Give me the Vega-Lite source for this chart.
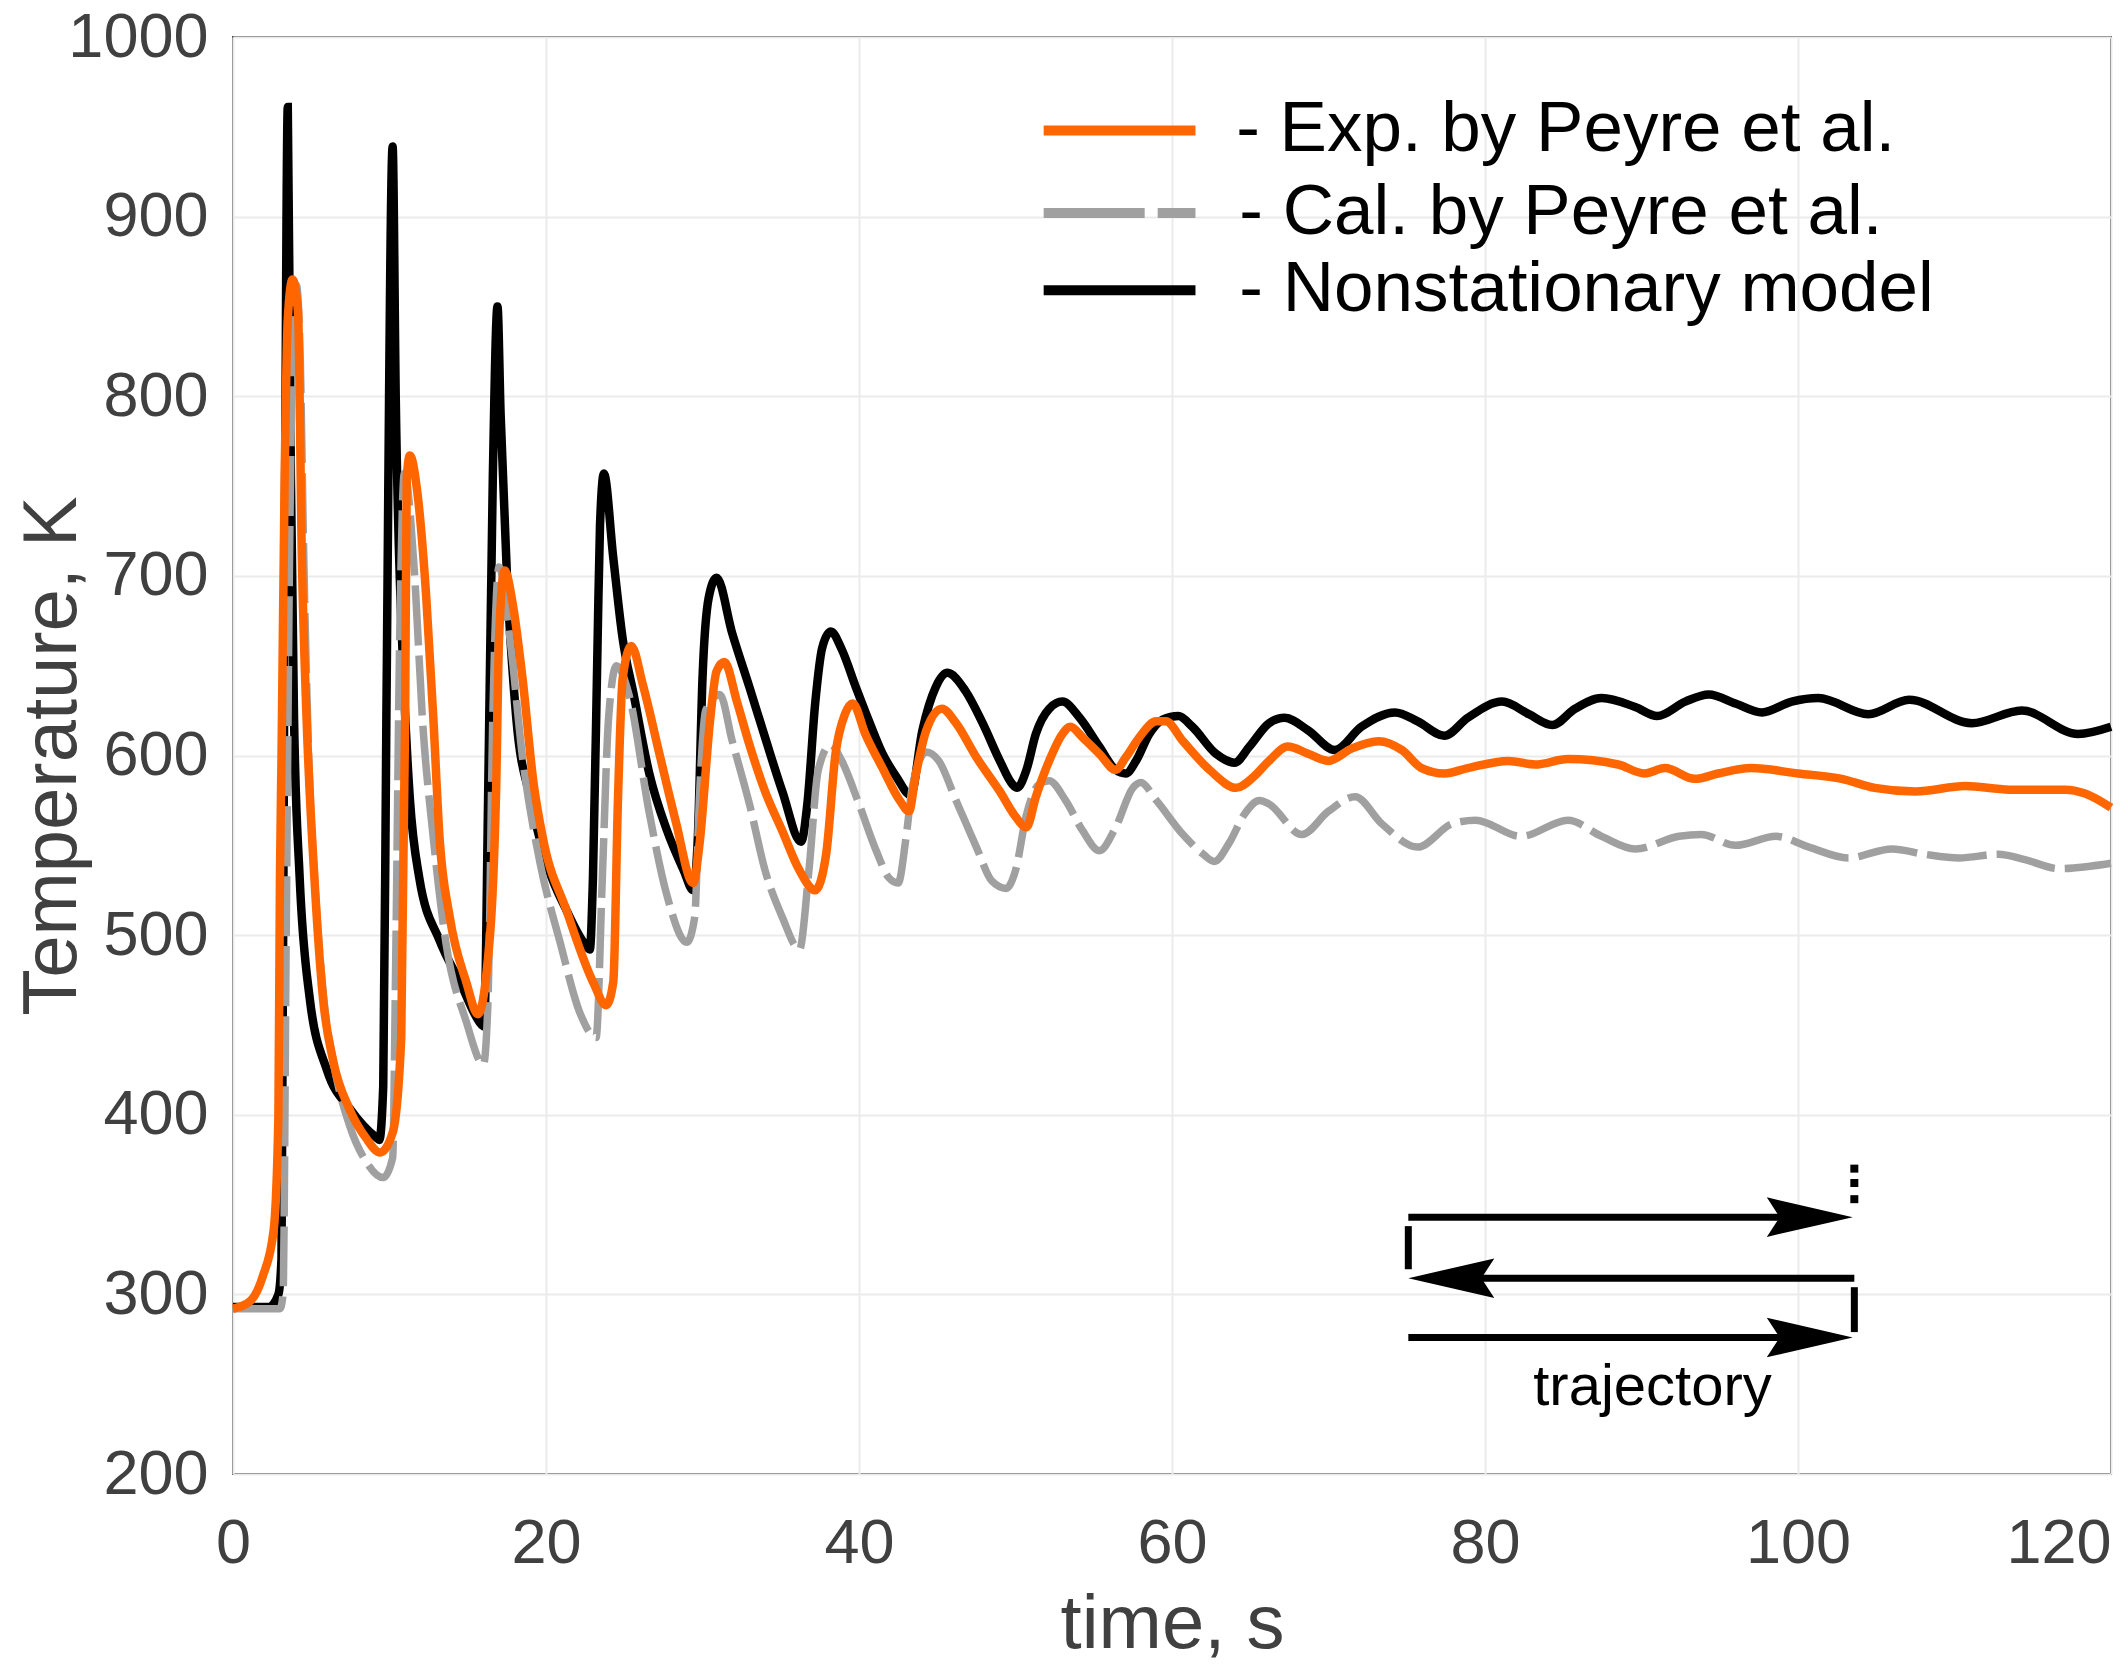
{
  "$schema": "https://vega.github.io/schema/vega-lite/v6.json",
  "width": 1878,
  "height": 1437,
  "autosize": "none",
  "padding": {"left": 233, "top": 37, "right": 13, "bottom": 196},
  "background": "#ffffff",
  "config": {
    "view": {"stroke": "#4d4d4d", "strokeWidth": 2},
    "font": "Liberation Sans",
    "axis": {
      "domain": false,
      "grid": true,
      "gridColor": "#ebebeb",
      "gridWidth": 2,
      "ticks": false,
      "labelFont": "Liberation Sans",
      "labelFontSize": 63,
      "labelColor": "#404040",
      "labelFlush": false,
      "labelOverlap": false,
      "labelBound": false,
      "format": "d",
      "titleFont": "Liberation Sans",
      "titleFontSize": 76,
      "titleFontWeight": "normal",
      "titleColor": "#404040"
    }
  },
  "datasets": {
    "curves": [
      {"s": "Nonstationary model", "t": 0, "T": 293},
      {"s": "Nonstationary model", "t": 2.3, "T": 293},
      {"s": "Nonstationary model", "t": 2.9, "T": 300},
      {"s": "Nonstationary model", "t": 3.1, "T": 320},
      {"s": "Nonstationary model", "t": 3.3, "T": 700},
      {"s": "Nonstationary model", "t": 3.5, "T": 961},
      {"s": "Nonstationary model", "t": 3.7, "T": 754},
      {"s": "Nonstationary model", "t": 3.9, "T": 621},
      {"s": "Nonstationary model", "t": 4.26, "T": 532},
      {"s": "Nonstationary model", "t": 4.9, "T": 465},
      {"s": "Nonstationary model", "t": 6.0, "T": 425},
      {"s": "Nonstationary model", "t": 7.5, "T": 403},
      {"s": "Nonstationary model", "t": 9.2, "T": 387},
      {"s": "Nonstationary model", "t": 9.35, "T": 386},
      {"s": "Nonstationary model", "t": 9.6, "T": 416},
      {"s": "Nonstationary model", "t": 9.8, "T": 621},
      {"s": "Nonstationary model", "t": 10.2, "T": 939},
      {"s": "Nonstationary model", "t": 10.4, "T": 799},
      {"s": "Nonstationary model", "t": 10.9, "T": 643},
      {"s": "Nonstationary model", "t": 11.3, "T": 576},
      {"s": "Nonstationary model", "t": 11.9, "T": 532},
      {"s": "Nonstationary model", "t": 13.2, "T": 497},
      {"s": "Nonstationary model", "t": 14.5, "T": 474},
      {"s": "Nonstationary model", "t": 15.9, "T": 450},
      {"s": "Nonstationary model", "t": 16.05, "T": 449},
      {"s": "Nonstationary model", "t": 16.3, "T": 576},
      {"s": "Nonstationary model", "t": 16.6, "T": 754},
      {"s": "Nonstationary model", "t": 16.9, "T": 850},
      {"s": "Nonstationary model", "t": 17.1, "T": 790},
      {"s": "Nonstationary model", "t": 17.5, "T": 701},
      {"s": "Nonstationary model", "t": 18.1, "T": 621},
      {"s": "Nonstationary model", "t": 19.0, "T": 576},
      {"s": "Nonstationary model", "t": 20.2, "T": 536},
      {"s": "Nonstationary model", "t": 21.3, "T": 514},
      {"s": "Nonstationary model", "t": 22.4, "T": 496},
      {"s": "Nonstationary model", "t": 22.8, "T": 492},
      {"s": "Nonstationary model", "t": 23.0, "T": 532},
      {"s": "Nonstationary model", "t": 23.3, "T": 665},
      {"s": "Nonstationary model", "t": 23.45, "T": 728},
      {"s": "Nonstationary model", "t": 23.7, "T": 757},
      {"s": "Nonstationary model", "t": 24.3, "T": 710},
      {"s": "Nonstationary model", "t": 24.9, "T": 665},
      {"s": "Nonstationary model", "t": 25.6, "T": 634},
      {"s": "Nonstationary model", "t": 26.6, "T": 590},
      {"s": "Nonstationary model", "t": 27.7, "T": 559},
      {"s": "Nonstationary model", "t": 28.8, "T": 536},
      {"s": "Nonstationary model", "t": 29.4, "T": 525},
      {"s": "Nonstationary model", "t": 29.7, "T": 554},
      {"s": "Nonstationary model", "t": 30.0, "T": 643},
      {"s": "Nonstationary model", "t": 30.4, "T": 688},
      {"s": "Nonstationary model", "t": 30.9, "T": 699},
      {"s": "Nonstationary model", "t": 31.9, "T": 668},
      {"s": "Nonstationary model", "t": 33.0, "T": 638},
      {"s": "Nonstationary model", "t": 34.0, "T": 610},
      {"s": "Nonstationary model", "t": 35.1, "T": 580},
      {"s": "Nonstationary model", "t": 36.3, "T": 552},
      {"s": "Nonstationary model", "t": 36.7, "T": 573},
      {"s": "Nonstationary model", "t": 37.2, "T": 629},
      {"s": "Nonstationary model", "t": 37.65, "T": 660},
      {"s": "Nonstationary model", "t": 38.2, "T": 669},
      {"s": "Nonstationary model", "t": 38.9, "T": 659},
      {"s": "Nonstationary model", "t": 39.8, "T": 638},
      {"s": "Nonstationary model", "t": 40.6, "T": 620},
      {"s": "Nonstationary model", "t": 41.5, "T": 601},
      {"s": "Nonstationary model", "t": 42.4, "T": 588},
      {"s": "Nonstationary model", "t": 43.3, "T": 578},
      {"s": "Nonstationary model", "t": 44.05, "T": 614},
      {"s": "Nonstationary model", "t": 44.9, "T": 638},
      {"s": "Nonstationary model", "t": 45.65, "T": 646},
      {"s": "Nonstationary model", "t": 46.8, "T": 636},
      {"s": "Nonstationary model", "t": 47.9, "T": 618},
      {"s": "Nonstationary model", "t": 49.0, "T": 597},
      {"s": "Nonstationary model", "t": 49.8, "T": 584},
      {"s": "Nonstationary model", "t": 50.1, "T": 582},
      {"s": "Nonstationary model", "t": 50.7, "T": 592},
      {"s": "Nonstationary model", "t": 51.3, "T": 612},
      {"s": "Nonstationary model", "t": 52.15, "T": 626},
      {"s": "Nonstationary model", "t": 53.0, "T": 630},
      {"s": "Nonstationary model", "t": 54.1, "T": 621},
      {"s": "Nonstationary model", "t": 55.35, "T": 605},
      {"s": "Nonstationary model", "t": 56.4, "T": 592},
      {"s": "Nonstationary model", "t": 57.05, "T": 590},
      {"s": "Nonstationary model", "t": 57.7, "T": 597},
      {"s": "Nonstationary model", "t": 58.55, "T": 612},
      {"s": "Nonstationary model", "t": 59.4, "T": 620},
      {"s": "Nonstationary model", "t": 60.4, "T": 622},
      {"s": "Nonstationary model", "t": 61.3, "T": 616},
      {"s": "Nonstationary model", "t": 62.8, "T": 601},
      {"s": "Nonstationary model", "t": 64.0, "T": 596},
      {"s": "Nonstationary model", "t": 64.95, "T": 605},
      {"s": "Nonstationary model", "t": 66.2, "T": 618},
      {"s": "Nonstationary model", "t": 67.2, "T": 621},
      {"s": "Nonstationary model", "t": 68.7, "T": 614},
      {"s": "Nonstationary model", "t": 70.4, "T": 603},
      {"s": "Nonstationary model", "t": 72.1, "T": 616},
      {"s": "Nonstationary model", "t": 74.25, "T": 624},
      {"s": "Nonstationary model", "t": 75.7, "T": 619},
      {"s": "Nonstationary model", "t": 77.4, "T": 611},
      {"s": "Nonstationary model", "t": 78.9, "T": 621},
      {"s": "Nonstationary model", "t": 81.1, "T": 630},
      {"s": "Nonstationary model", "t": 82.8, "T": 623},
      {"s": "Nonstationary model", "t": 84.3, "T": 617},
      {"s": "Nonstationary model", "t": 85.75, "T": 626},
      {"s": "Nonstationary model", "t": 87.45, "T": 632},
      {"s": "Nonstationary model", "t": 89.6, "T": 627},
      {"s": "Nonstationary model", "t": 91.0, "T": 622},
      {"s": "Nonstationary model", "t": 92.8, "T": 630},
      {"s": "Nonstationary model", "t": 94.3, "T": 634},
      {"s": "Nonstationary model", "t": 96.0, "T": 629},
      {"s": "Nonstationary model", "t": 97.7, "T": 624},
      {"s": "Nonstationary model", "t": 99.6, "T": 630},
      {"s": "Nonstationary model", "t": 101.3, "T": 632},
      {"s": "Nonstationary model", "t": 104.5, "T": 623},
      {"s": "Nonstationary model", "t": 107.1, "T": 631},
      {"s": "Nonstationary model", "t": 111.1, "T": 618},
      {"s": "Nonstationary model", "t": 114.3, "T": 625},
      {"s": "Nonstationary model", "t": 117.9, "T": 612},
      {"s": "Nonstationary model", "t": 120, "T": 616},

      {"s": "Cal. by Peyre et al.", "t": 0, "T": 292},
      {"s": "Cal. by Peyre et al.", "t": 3.0, "T": 292},
      {"s": "Cal. by Peyre et al.", "t": 3.2, "T": 300},
      {"s": "Cal. by Peyre et al.", "t": 3.4, "T": 500},
      {"s": "Cal. by Peyre et al.", "t": 3.6, "T": 700},
      {"s": "Cal. by Peyre et al.", "t": 3.8, "T": 820},
      {"s": "Cal. by Peyre et al.", "t": 4.05, "T": 862},
      {"s": "Cal. by Peyre et al.", "t": 4.3, "T": 820},
      {"s": "Cal. by Peyre et al.", "t": 4.5, "T": 720},
      {"s": "Cal. by Peyre et al.", "t": 4.8, "T": 610},
      {"s": "Cal. by Peyre et al.", "t": 5.3, "T": 520},
      {"s": "Cal. by Peyre et al.", "t": 5.8, "T": 465},
      {"s": "Cal. by Peyre et al.", "t": 6.4, "T": 430},
      {"s": "Cal. by Peyre et al.", "t": 7.45, "T": 394},
      {"s": "Cal. by Peyre et al.", "t": 8.5, "T": 374},
      {"s": "Cal. by Peyre et al.", "t": 9.6, "T": 365},
      {"s": "Cal. by Peyre et al.", "t": 10.2, "T": 376},
      {"s": "Cal. by Peyre et al.", "t": 10.4, "T": 488},
      {"s": "Cal. by Peyre et al.", "t": 10.65, "T": 665},
      {"s": "Cal. by Peyre et al.", "t": 10.95, "T": 757},
      {"s": "Cal. by Peyre et al.", "t": 11.6, "T": 701},
      {"s": "Cal. by Peyre et al.", "t": 12.1, "T": 621},
      {"s": "Cal. by Peyre et al.", "t": 12.8, "T": 554},
      {"s": "Cal. by Peyre et al.", "t": 13.6, "T": 496},
      {"s": "Cal. by Peyre et al.", "t": 14.9, "T": 452},
      {"s": "Cal. by Peyre et al.", "t": 16.0, "T": 428},
      {"s": "Cal. by Peyre et al.", "t": 16.3, "T": 465},
      {"s": "Cal. by Peyre et al.", "t": 16.6, "T": 621},
      {"s": "Cal. by Peyre et al.", "t": 17.0, "T": 705},
      {"s": "Cal. by Peyre et al.", "t": 17.7, "T": 665},
      {"s": "Cal. by Peyre et al.", "t": 18.5, "T": 599},
      {"s": "Cal. by Peyre et al.", "t": 19.6, "T": 541},
      {"s": "Cal. by Peyre et al.", "t": 20.9, "T": 496},
      {"s": "Cal. by Peyre et al.", "t": 22.2, "T": 456},
      {"s": "Cal. by Peyre et al.", "t": 23.2, "T": 443},
      {"s": "Cal. by Peyre et al.", "t": 23.6, "T": 532},
      {"s": "Cal. by Peyre et al.", "t": 24.0, "T": 621},
      {"s": "Cal. by Peyre et al.", "t": 24.5, "T": 650},
      {"s": "Cal. by Peyre et al.", "t": 25.3, "T": 634},
      {"s": "Cal. by Peyre et al.", "t": 26.6, "T": 568},
      {"s": "Cal. by Peyre et al.", "t": 27.7, "T": 523},
      {"s": "Cal. by Peyre et al.", "t": 29.0, "T": 496},
      {"s": "Cal. by Peyre et al.", "t": 29.5, "T": 510},
      {"s": "Cal. by Peyre et al.", "t": 29.8, "T": 576},
      {"s": "Cal. by Peyre et al.", "t": 30.2, "T": 625},
      {"s": "Cal. by Peyre et al.", "t": 31.1, "T": 634},
      {"s": "Cal. by Peyre et al.", "t": 31.9, "T": 608},
      {"s": "Cal. by Peyre et al.", "t": 33.0, "T": 573},
      {"s": "Cal. by Peyre et al.", "t": 34.0, "T": 536},
      {"s": "Cal. by Peyre et al.", "t": 35.1, "T": 510},
      {"s": "Cal. by Peyre et al.", "t": 36.2, "T": 492},
      {"s": "Cal. by Peyre et al.", "t": 36.8, "T": 536},
      {"s": "Cal. by Peyre et al.", "t": 37.4, "T": 592},
      {"s": "Cal. by Peyre et al.", "t": 38.2, "T": 606},
      {"s": "Cal. by Peyre et al.", "t": 38.9, "T": 597},
      {"s": "Cal. by Peyre et al.", "t": 40.0, "T": 573},
      {"s": "Cal. by Peyre et al.", "t": 41.1, "T": 547},
      {"s": "Cal. by Peyre et al.", "t": 41.9, "T": 532},
      {"s": "Cal. by Peyre et al.", "t": 42.5, "T": 529},
      {"s": "Cal. by Peyre et al.", "t": 43.0, "T": 554},
      {"s": "Cal. by Peyre et al.", "t": 43.4, "T": 582},
      {"s": "Cal. by Peyre et al.", "t": 44.3, "T": 602},
      {"s": "Cal. by Peyre et al.", "t": 45.1, "T": 597},
      {"s": "Cal. by Peyre et al.", "t": 46.2, "T": 575},
      {"s": "Cal. by Peyre et al.", "t": 47.5, "T": 549},
      {"s": "Cal. by Peyre et al.", "t": 48.5, "T": 530},
      {"s": "Cal. by Peyre et al.", "t": 49.4, "T": 526},
      {"s": "Cal. by Peyre et al.", "t": 50.0, "T": 536},
      {"s": "Cal. by Peyre et al.", "t": 50.7, "T": 567},
      {"s": "Cal. by Peyre et al.", "t": 51.5, "T": 584},
      {"s": "Cal. by Peyre et al.", "t": 52.15, "T": 586},
      {"s": "Cal. by Peyre et al.", "t": 53.2, "T": 575},
      {"s": "Cal. by Peyre et al.", "t": 54.3, "T": 558},
      {"s": "Cal. by Peyre et al.", "t": 55.35, "T": 547},
      {"s": "Cal. by Peyre et al.", "t": 56.4, "T": 560},
      {"s": "Cal. by Peyre et al.", "t": 57.5, "T": 582},
      {"s": "Cal. by Peyre et al.", "t": 58.0, "T": 585},
      {"s": "Cal. by Peyre et al.", "t": 59.0, "T": 575},
      {"s": "Cal. by Peyre et al.", "t": 60.7, "T": 556},
      {"s": "Cal. by Peyre et al.", "t": 62.0, "T": 545},
      {"s": "Cal. by Peyre et al.", "t": 62.7, "T": 541},
      {"s": "Cal. by Peyre et al.", "t": 63.7, "T": 552},
      {"s": "Cal. by Peyre et al.", "t": 64.6, "T": 567},
      {"s": "Cal. by Peyre et al.", "t": 65.6, "T": 575},
      {"s": "Cal. by Peyre et al.", "t": 66.2, "T": 573},
      {"s": "Cal. by Peyre et al.", "t": 68.3, "T": 556},
      {"s": "Cal. by Peyre et al.", "t": 70.0, "T": 569},
      {"s": "Cal. by Peyre et al.", "t": 71.7, "T": 577},
      {"s": "Cal. by Peyre et al.", "t": 73.4, "T": 562},
      {"s": "Cal. by Peyre et al.", "t": 75.7, "T": 549},
      {"s": "Cal. by Peyre et al.", "t": 77.9, "T": 562},
      {"s": "Cal. by Peyre et al.", "t": 79.4, "T": 564},
      {"s": "Cal. by Peyre et al.", "t": 82.3, "T": 555},
      {"s": "Cal. by Peyre et al.", "t": 85.3, "T": 564},
      {"s": "Cal. by Peyre et al.", "t": 87.45, "T": 555},
      {"s": "Cal. by Peyre et al.", "t": 89.6, "T": 548},
      {"s": "Cal. by Peyre et al.", "t": 92.4, "T": 555},
      {"s": "Cal. by Peyre et al.", "t": 93.8, "T": 556},
      {"s": "Cal. by Peyre et al.", "t": 96.0, "T": 550},
      {"s": "Cal. by Peyre et al.", "t": 98.6, "T": 555},
      {"s": "Cal. by Peyre et al.", "t": 100.7, "T": 549},
      {"s": "Cal. by Peyre et al.", "t": 103.2, "T": 543},
      {"s": "Cal. by Peyre et al.", "t": 106.0, "T": 548},
      {"s": "Cal. by Peyre et al.", "t": 108.1, "T": 545},
      {"s": "Cal. by Peyre et al.", "t": 110.3, "T": 543},
      {"s": "Cal. by Peyre et al.", "t": 112.8, "T": 545},
      {"s": "Cal. by Peyre et al.", "t": 114.5, "T": 542},
      {"s": "Cal. by Peyre et al.", "t": 116.7, "T": 537},
      {"s": "Cal. by Peyre et al.", "t": 120, "T": 540},

      {"s": "Exp. by Peyre et al.", "t": 0, "T": 292},
      {"s": "Exp. by Peyre et al.", "t": 1.07, "T": 296},
      {"s": "Exp. by Peyre et al.", "t": 1.9, "T": 310},
      {"s": "Exp. by Peyre et al.", "t": 2.6, "T": 336},
      {"s": "Exp. by Peyre et al.", "t": 2.9, "T": 399},
      {"s": "Exp. by Peyre et al.", "t": 3.0, "T": 532},
      {"s": "Exp. by Peyre et al.", "t": 3.1, "T": 599},
      {"s": "Exp. by Peyre et al.", "t": 3.3, "T": 754},
      {"s": "Exp. by Peyre et al.", "t": 3.5, "T": 843},
      {"s": "Exp. by Peyre et al.", "t": 3.8, "T": 865},
      {"s": "Exp. by Peyre et al.", "t": 4.15, "T": 848},
      {"s": "Exp. by Peyre et al.", "t": 4.4, "T": 710},
      {"s": "Exp. by Peyre et al.", "t": 4.7, "T": 621},
      {"s": "Exp. by Peyre et al.", "t": 5.2, "T": 532},
      {"s": "Exp. by Peyre et al.", "t": 5.75, "T": 465},
      {"s": "Exp. by Peyre et al.", "t": 6.4, "T": 430},
      {"s": "Exp. by Peyre et al.", "t": 7.45, "T": 403},
      {"s": "Exp. by Peyre et al.", "t": 8.5, "T": 387},
      {"s": "Exp. by Peyre et al.", "t": 9.4, "T": 379},
      {"s": "Exp. by Peyre et al.", "t": 10.2, "T": 390},
      {"s": "Exp. by Peyre et al.", "t": 10.75, "T": 443},
      {"s": "Exp. by Peyre et al.", "t": 11.0, "T": 621},
      {"s": "Exp. by Peyre et al.", "t": 11.1, "T": 754},
      {"s": "Exp. by Peyre et al.", "t": 11.3, "T": 767},
      {"s": "Exp. by Peyre et al.", "t": 11.8, "T": 745},
      {"s": "Exp. by Peyre et al.", "t": 12.35, "T": 688},
      {"s": "Exp. by Peyre et al.", "t": 12.8, "T": 621},
      {"s": "Exp. by Peyre et al.", "t": 13.2, "T": 554},
      {"s": "Exp. by Peyre et al.", "t": 13.85, "T": 510},
      {"s": "Exp. by Peyre et al.", "t": 14.9, "T": 474},
      {"s": "Exp. by Peyre et al.", "t": 15.65, "T": 456},
      {"s": "Exp. by Peyre et al.", "t": 16.2, "T": 479},
      {"s": "Exp. by Peyre et al.", "t": 16.8, "T": 576},
      {"s": "Exp. by Peyre et al.", "t": 17.0, "T": 665},
      {"s": "Exp. by Peyre et al.", "t": 17.35, "T": 703},
      {"s": "Exp. by Peyre et al.", "t": 17.9, "T": 683},
      {"s": "Exp. by Peyre et al.", "t": 18.5, "T": 643},
      {"s": "Exp. by Peyre et al.", "t": 19.2, "T": 585},
      {"s": "Exp. by Peyre et al.", "t": 19.8, "T": 554},
      {"s": "Exp. by Peyre et al.", "t": 21.3, "T": 514},
      {"s": "Exp. by Peyre et al.", "t": 23.0, "T": 474},
      {"s": "Exp. by Peyre et al.", "t": 23.85, "T": 461},
      {"s": "Exp. by Peyre et al.", "t": 24.3, "T": 474},
      {"s": "Exp. by Peyre et al.", "t": 24.6, "T": 576},
      {"s": "Exp. by Peyre et al.", "t": 24.9, "T": 643},
      {"s": "Exp. by Peyre et al.", "t": 25.45, "T": 661},
      {"s": "Exp. by Peyre et al.", "t": 26.2, "T": 639},
      {"s": "Exp. by Peyre et al.", "t": 27.3, "T": 599},
      {"s": "Exp. by Peyre et al.", "t": 28.3, "T": 563},
      {"s": "Exp. by Peyre et al.", "t": 29.4, "T": 529},
      {"s": "Exp. by Peyre et al.", "t": 29.8, "T": 550},
      {"s": "Exp. by Peyre et al.", "t": 30.5, "T": 621},
      {"s": "Exp. by Peyre et al.", "t": 30.9, "T": 647},
      {"s": "Exp. by Peyre et al.", "t": 31.4, "T": 652},
      {"s": "Exp. by Peyre et al.", "t": 32.2, "T": 630},
      {"s": "Exp. by Peyre et al.", "t": 33.0, "T": 606},
      {"s": "Exp. by Peyre et al.", "t": 34.0, "T": 580},
      {"s": "Exp. by Peyre et al.", "t": 35.1, "T": 558},
      {"s": "Exp. by Peyre et al.", "t": 36.2, "T": 536},
      {"s": "Exp. by Peyre et al.", "t": 37.2, "T": 525},
      {"s": "Exp. by Peyre et al.", "t": 37.9, "T": 545},
      {"s": "Exp. by Peyre et al.", "t": 38.5, "T": 601},
      {"s": "Exp. by Peyre et al.", "t": 39.1, "T": 623},
      {"s": "Exp. by Peyre et al.", "t": 39.6, "T": 629},
      {"s": "Exp. by Peyre et al.", "t": 40.4, "T": 612},
      {"s": "Exp. by Peyre et al.", "t": 41.5, "T": 593},
      {"s": "Exp. by Peyre et al.", "t": 42.6, "T": 575},
      {"s": "Exp. by Peyre et al.", "t": 43.2, "T": 569},
      {"s": "Exp. by Peyre et al.", "t": 43.6, "T": 588},
      {"s": "Exp. by Peyre et al.", "t": 44.3, "T": 614},
      {"s": "Exp. by Peyre et al.", "t": 45.3, "T": 626},
      {"s": "Exp. by Peyre et al.", "t": 46.2, "T": 618},
      {"s": "Exp. by Peyre et al.", "t": 47.5, "T": 599},
      {"s": "Exp. by Peyre et al.", "t": 49.0, "T": 580},
      {"s": "Exp. by Peyre et al.", "t": 50.0, "T": 566},
      {"s": "Exp. by Peyre et al.", "t": 50.7, "T": 560},
      {"s": "Exp. by Peyre et al.", "t": 51.3, "T": 577},
      {"s": "Exp. by Peyre et al.", "t": 52.15, "T": 597},
      {"s": "Exp. by Peyre et al.", "t": 53.0, "T": 612},
      {"s": "Exp. by Peyre et al.", "t": 53.5, "T": 616},
      {"s": "Exp. by Peyre et al.", "t": 54.3, "T": 610},
      {"s": "Exp. by Peyre et al.", "t": 55.35, "T": 601},
      {"s": "Exp. by Peyre et al.", "t": 56.4, "T": 592},
      {"s": "Exp. by Peyre et al.", "t": 57.05, "T": 599},
      {"s": "Exp. by Peyre et al.", "t": 57.9, "T": 610},
      {"s": "Exp. by Peyre et al.", "t": 59.0, "T": 619},
      {"s": "Exp. by Peyre et al.", "t": 59.6, "T": 619},
      {"s": "Exp. by Peyre et al.", "t": 60.7, "T": 608},
      {"s": "Exp. by Peyre et al.", "t": 62.4, "T": 592},
      {"s": "Exp. by Peyre et al.", "t": 64.1, "T": 582},
      {"s": "Exp. by Peyre et al.", "t": 65.2, "T": 588},
      {"s": "Exp. by Peyre et al.", "t": 66.2, "T": 597},
      {"s": "Exp. by Peyre et al.", "t": 67.4, "T": 605},
      {"s": "Exp. by Peyre et al.", "t": 68.7, "T": 601},
      {"s": "Exp. by Peyre et al.", "t": 70.0, "T": 597},
      {"s": "Exp. by Peyre et al.", "t": 71.5, "T": 604},
      {"s": "Exp. by Peyre et al.", "t": 73.2, "T": 608},
      {"s": "Exp. by Peyre et al.", "t": 74.7, "T": 603},
      {"s": "Exp. by Peyre et al.", "t": 75.95, "T": 593},
      {"s": "Exp. by Peyre et al.", "t": 77.4, "T": 590},
      {"s": "Exp. by Peyre et al.", "t": 78.9, "T": 593},
      {"s": "Exp. by Peyre et al.", "t": 81.5, "T": 597},
      {"s": "Exp. by Peyre et al.", "t": 83.2, "T": 595},
      {"s": "Exp. by Peyre et al.", "t": 85.3, "T": 598},
      {"s": "Exp. by Peyre et al.", "t": 88.5, "T": 595},
      {"s": "Exp. by Peyre et al.", "t": 90.2, "T": 590},
      {"s": "Exp. by Peyre et al.", "t": 91.5, "T": 593},
      {"s": "Exp. by Peyre et al.", "t": 93.4, "T": 587},
      {"s": "Exp. by Peyre et al.", "t": 94.9, "T": 590},
      {"s": "Exp. by Peyre et al.", "t": 97.0, "T": 593},
      {"s": "Exp. by Peyre et al.", "t": 100, "T": 590},
      {"s": "Exp. by Peyre et al.", "t": 102.8, "T": 587},
      {"s": "Exp. by Peyre et al.", "t": 104.9, "T": 582},
      {"s": "Exp. by Peyre et al.", "t": 107.5, "T": 580},
      {"s": "Exp. by Peyre et al.", "t": 110.7, "T": 583},
      {"s": "Exp. by Peyre et al.", "t": 113.5, "T": 581},
      {"s": "Exp. by Peyre et al.", "t": 117.1, "T": 581},
      {"s": "Exp. by Peyre et al.", "t": 118.3, "T": 579},
      {"s": "Exp. by Peyre et al.", "t": 120, "T": 571}
    ],
    "keys": [
      {"s": "Exp. by Peyre et al.", "t": 51.8, "t2": 61.5, "T": 948},
      {"s": "Cal. by Peyre et al.", "t": 51.8, "t2": 61.5, "T": 902},
      {"s": "Nonstationary model", "t": 51.8, "t2": 61.5, "T": 859}
    ],
    "keyText": [
      {"label": "- Exp. by Peyre et al.", "t": 64.1, "T": 948},
      {"label": "- Cal. by Peyre et al.", "t": 64.3, "T": 902},
      {"label": "- Nonstationary model", "t": 64.3, "T": 859}
    ],
    "shafts": [
      {"t": 75.1, "t2": 100.0, "T": 343},
      {"t": 78.0, "t2": 103.6, "T": 309},
      {"t": 75.1, "t2": 100.0, "T": 276}
    ],
    "bars": [
      {"t": 75.1, "T": 338, "T2": 314},
      {"t": 103.6, "T": 304, "T2": 279}
    ],
    "headsRight": [
      {"t": 103.5, "T": 343},
      {"t": 103.5, "T": 276}
    ],
    "headsLeft": [
      {"t": 75.1, "T": 309}
    ],
    "dots": [
      {"t": 103.6, "T": 370},
      {"t": 103.6, "T": 362},
      {"t": 103.6, "T": 353}
    ],
    "note": [
      {"label": "trajectory", "t": 90.7, "T": 248}
    ]
  },
  "encoding": {
    "x": {
      "field": "t",
      "type": "quantitative",
      "title": "time, s",
      "scale": {"domain": [0, 120], "nice": false, "zero": false},
      "axis": {
        "values": [0, 20, 40, 60, 80, 100, 120],
        "labelPadding": 38,
        "labelAlign": {"condition": {"test": "datum.value === 120", "value": "right"}, "value": "center"},
        "titlePadding": 12
      }
    },
    "y": {
      "field": "T",
      "type": "quantitative",
      "title": "Temperature, K",
      "scale": {"domain": [200, 1000], "nice": false, "zero": false},
      "axis": {
        "values": [200, 300, 400, 500, 600, 700, 800, 900, 1000],
        "labelPadding": 25,
        "titlePadding": -24
      }
    }
  },
  "layer": [
    {
      "data": {"name": "curves"},
      "transform": [{"filter": "datum.s === 'Nonstationary model'"}],
      "mark": {"type": "line", "color": "#000000", "strokeWidth": 8.5, "interpolate": "monotone"}
    },
    {
      "data": {"name": "curves"},
      "transform": [{"filter": "datum.s === 'Cal. by Peyre et al.'"}],
      "mark": {"type": "line", "color": "#a0a0a0", "strokeWidth": 7.5, "strokeDash": [60, 10], "interpolate": "monotone"}
    },
    {
      "data": {"name": "curves"},
      "transform": [{"filter": "datum.s === 'Exp. by Peyre et al.'"}],
      "mark": {"type": "line", "color": "#ff6600", "strokeWidth": 8.5, "interpolate": "monotone"}
    },
    {
      "data": {"name": "keys"},
      "transform": [{"filter": "datum.s === 'Exp. by Peyre et al.'"}],
      "mark": {"type": "rule", "color": "#ff6600", "strokeWidth": 10},
      "encoding": {"x2": {"field": "t2"}}
    },
    {
      "data": {"name": "keys"},
      "transform": [{"filter": "datum.s === 'Cal. by Peyre et al.'"}],
      "mark": {"type": "rule", "color": "#a0a0a0", "strokeWidth": 10, "strokeDash": [101, 13]},
      "encoding": {"x2": {"field": "t2"}}
    },
    {
      "data": {"name": "keys"},
      "transform": [{"filter": "datum.s === 'Nonstationary model'"}],
      "mark": {"type": "rule", "color": "#000000", "strokeWidth": 10},
      "encoding": {"x2": {"field": "t2"}}
    },
    {
      "data": {"name": "keyText"},
      "mark": {"type": "text", "align": "left", "baseline": "middle", "fontSize": 71, "font": "Liberation Sans", "color": "#000000"},
      "encoding": {"text": {"field": "label"}}
    },
    {
      "data": {"name": "shafts"},
      "mark": {"type": "rule", "color": "#000000", "strokeWidth": 7},
      "encoding": {"x2": {"field": "t2"}}
    },
    {
      "data": {"name": "bars"},
      "mark": {"type": "rule", "color": "#000000", "strokeWidth": 7},
      "encoding": {"y2": {"field": "T2"}}
    },
    {
      "data": {"name": "headsRight"},
      "mark": {"type": "point", "shape": "M0,0 L-2,-0.46 L-1.7,0 L-2,0.46 Z", "filled": true, "color": "#000000", "opacity": 1, "size": 7396}
    },
    {
      "data": {"name": "headsLeft"},
      "mark": {"type": "point", "shape": "M0,0 L2,-0.46 L1.7,0 L2,0.46 Z", "filled": true, "color": "#000000", "opacity": 1, "size": 7396}
    },
    {
      "data": {"name": "dots"},
      "mark": {"type": "square", "color": "#000000", "opacity": 1, "size": 64}
    },
    {
      "data": {"name": "note"},
      "mark": {"type": "text", "align": "center", "baseline": "middle", "fontSize": 58, "font": "Liberation Sans", "color": "#000000"},
      "encoding": {"text": {"field": "label"}}
    }
  ]
}
